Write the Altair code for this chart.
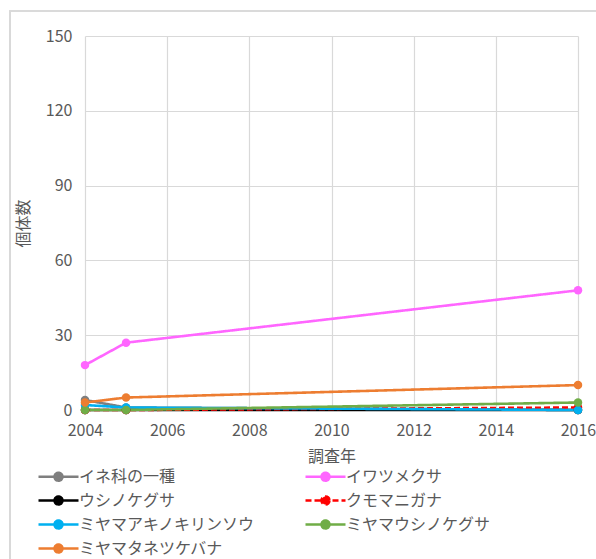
import altair as alt
import pandas as pd

# Survey years and species
years = [2004, 2005, 2016]
species = [
    "イネ科の一種",
    "イワツメクサ",
    "ウシノケグサ",
    "クモマニガナ",
    "ミヤマアキノキリンソウ",
    "ミヤマウシノケグサ",
    "ミヤマタネツケバナ",
]
colors = ["#7f7f7f", "#ff66ff", "#000000", "#ff0000", "#00b0f0", "#70ad47", "#ed7d31"]
dashes = [[1, 0], [1, 0], [1, 0], [6, 3], [1, 0], [1, 0], [1, 0]]

# Individual counts per species, one value per survey year
ine_ka = [4, 1, 0]
iwatsumekusa = [18, 27, 48]
ushinokegusa = [0, 0, 0]
kumomaniga = [0, 0, 1]
miyama_akinokirinsou = [2, 1, 0]
miyama_ushinokegusa = [0, 0, 3]
miyama_tanetsukebana = [3, 5, 10]

series = [ine_ka, iwatsumekusa, ushinokegusa, kumomaniga,
          miyama_akinokirinsou, miyama_ushinokegusa, miyama_tanetsukebana]

rows = []
for order, (name, vals) in enumerate(zip(species, series)):
    for yr, v in zip(years, vals):
        rows.append({"year": yr, "species": name, "count": v, "order": order})
df = pd.DataFrame(rows)

# The legend fills its columns top to bottom; reorder the domain so the
# entries read left to right, row by row, in species order.
n_rows = (len(species) + 1) // 2
legend_order = [i * 2 for i in range(n_rows)] + [i * 2 + 1 for i in range(len(species) // 2)]
dom = [species[i] for i in legend_order]
col_range = [colors[i] for i in legend_order]
dash_range = [dashes[i] for i in legend_order]

font = "Noto Sans CJK JP"
text_color = "#595959"
grid_color = "#d9d9d9"

# Legend symbol: a short line with a dot in the middle. The path reaches past
# the unit box so the entries stay short while the line stays long.
line_dot = "M -2 0 L 2 0 M 0.4 0 A 0.4 0.4 0 1 1 -0.4 0 A 0.4 0.4 0 1 1 0.4 0 Z"

x_enc = alt.X(
    "year:Q",
    title="調査年",
    scale=alt.Scale(domain=[2004, 2016], nice=False),
    axis=alt.Axis(values=list(range(2004, 2017, 2)), format="d", labelFlush=False),
)
y_enc = alt.Y(
    "count:Q",
    title="個体数",
    scale=alt.Scale(domain=[0, 150], nice=False),
    axis=alt.Axis(values=[0, 30, 60, 90, 120, 150]),
)
color_enc = alt.Color(
    "species:N",
    title=None,
    scale=alt.Scale(domain=dom, range=col_range),
    legend=alt.Legend(
        orient="none",
        legendX=-38,
        legendY=429,
        columns=2,
        columnPadding=44,
        rowPadding=3,
        symbolType=line_dot,
        symbolSize=400,
        symbolStrokeWidth=2.5,
        labelFont=font,
        labelFontSize=16,
        labelColor=text_color,
        labelOffset=9,
        labelLimit=300,
    ),
)
dash_enc = alt.StrokeDash(
    "species:N",
    title=None,
    scale=alt.Scale(domain=dom, range=dash_range),
)

border = alt.Chart(df).mark_rect(
    fill=None, stroke=grid_color, strokeWidth=1.2
).encode(
    x=alt.value(-75), x2=alt.value(530), y=alt.value(-25), y2=alt.value(540)
)

lines = alt.Chart(df).mark_line(strokeWidth=2.6).encode(
    x=x_enc, y=y_enc, color=color_enc, strokeDash=dash_enc,
    order=alt.Order("year:Q"),
)
points = alt.Chart(df).mark_circle(size=72, opacity=1).encode(
    x=x_enc, y=y_enc, color=color_enc,
)

chart = alt.layer(border, lines, points).properties(
    width=493,
    height=374,
    autosize=alt.AutoSizeParams(type="none"),
    padding={"left": 85, "top": 36, "right": 18, "bottom": 149},
).configure_view(
    stroke=None
).configure_axis(
    grid=True,
    gridColor=grid_color,
    gridWidth=1.2,
    domain=False,
    ticks=False,
    labelFont=font,
    labelFontSize=16,
    labelColor=text_color,
    titleFont=font,
    titleFontSize=16,
    titleColor=text_color,
    titleFontWeight="normal",
).configure_axisX(
    labelPadding=12,
    titlePadding=10,
).configure_axisY(
    labelPadding=13,
    titlePadding=14,
)

chart.save("out.html", embed_options={"renderer": "svg", "actions": False})
